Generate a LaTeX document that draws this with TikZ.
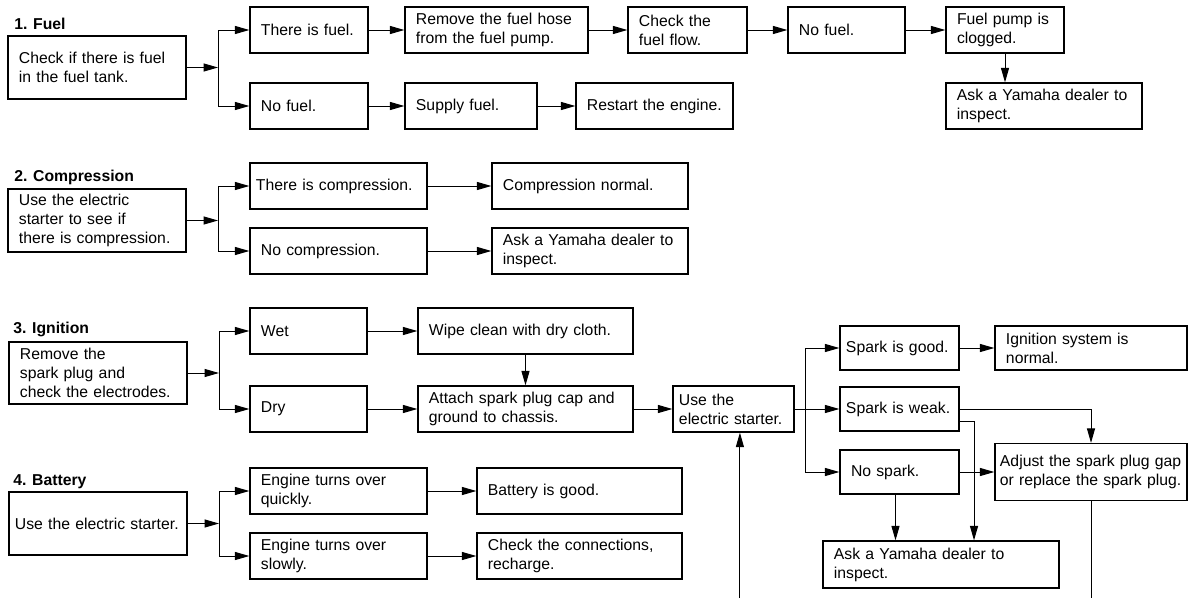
\documentclass[tikz,border=0pt]{standalone}
\usepackage{fontspec}
\setmainfont{Liberation Sans}
\usetikzlibrary{arrows.meta}

\begin{document}
\begin{tikzpicture}[x=0.025cm, y=-0.025cm,
  box/.style={draw, line width=0.9pt, inner xsep=0.275cm, inner ysep=0pt, align=left, minimum height=1.15cm, font=\fontsize{11.2}{13.5}\selectfont},
  tight/.style={inner xsep=0.15cm},
  tall/.style={minimum height=1.575cm},
  head/.style={anchor=base west, inner sep=0pt, font=\fontsize{11.2}{13.5}\selectfont\bfseries},
  arr/.style={line width=0.7pt, -{Triangle[length=3.6mm,width=2mm]}}]
\useasboundingbox (0,0) rectangle (1189,598);
% 1. fuel
\node[head] (h1) at (14,29) {1. Fuel};
\node[box, tall, text width=3.9cm] (fuel) at (97,67.5) {Check if there is fuel\\in the fuel tank.};
\node[box, text width=2.4cm] (fyes) at (309,30) {There is fuel.};
\node[box, text width=2.4cm] (fno) at (309,106) {No fuel.};
\node[box, text width=4.025cm] (fhose) at (496.5,30) {Remove the fuel hose\\from the fuel pump.};
\node[box, text width=2.425cm] (fflow) at (687.5,30) {Check the\\fuel flow.};
\node[box, text width=2.375cm] (fnone) at (846.5,30) {No fuel.};
\node[box, text width=2.4cm] (fpump) at (1005,30) {Fuel pump is\\clogged.};
\node[box, text width=4.35cm] (fdealer) at (1044,106) {Ask a Yamaha dealer to\\inspect.};
\node[box, text width=2.75cm] (fsupply) at (471,106) {Supply fuel.};
\node[box, text width=3.375cm] (frestart) at (654.5,106) {Restart the engine.};
\coordinate (fj) at (218,67.5);
% 2. compression
\node[head] (h2) at (14,181.5) {2. Compression};
\node[box, tall, text width=3.9cm] (comp) at (97,220.5) {Use the electric\\starter to see if\\there is compression.};
\node[box, tight, text width=4.125cm] (cyes) at (338.5,186) {There is compression.};
\node[box, text width=3.875cm] (cno) at (338.5,251) {No compression.};
\node[box, text width=4.35cm] (cnormal) at (590,186) {Compression normal.};
\node[box, text width=4.35cm] (cdealer) at (590,251) {Ask a Yamaha dealer to\\inspect.};
\coordinate (cj) at (218,220.5);
% 3. ignition
\node[head] (h3) at (13,333) {3. Ignition};
\node[box, minimum height=1.55cm, text width=3.9cm] (plug) at (98,373) {Remove the\\spark plug and\\check the electrodes.};
\node[box, text width=2.375cm] (wet) at (308.5,331) {Wet};
\node[box, text width=2.375cm] (dry) at (308.5,409) {Dry};
\node[box, text width=4.825cm] (wipe) at (525.5,331) {Wipe clean with dry cloth.};
\node[box, text width=4.825cm] (attach) at (525.5,409) {Attach spark plug cap and\\ground to chassis.};
\node[box, tight, text width=2.725cm] (starter) at (733.5,409) {Use the\\electric starter.};
\coordinate (ij) at (219,373);
\coordinate (sj) at (805,409);
\node[box, tight, minimum height=1.1cm, text width=2.675cm] (sgood) at (899.5,348) {Spark is good.};
\node[box, tight, minimum height=1.1cm, text width=2.675cm] (sweak) at (899.5,409) {Spark is weak.};
\node[box, minimum height=1.1cm, text width=2.425cm] (snone) at (899.5,472) {No spark.};
\node[box, minimum height=1.1cm, text width=4.25cm] (snormal) at (1091,348) {Ignition system is\\normal.};
\node[box, minimum height=1.425cm, inner xsep=0.125cm, text width=4.55cm] (adjust) at (1091,472) {Adjust the spark plug gap\\or replace the spark plug.};
\node[box, minimum height=1.175cm, text width=5.35cm] (sdealer) at (941,564.5) {Ask a Yamaha dealer to\\inspect.};
% 4. battery
\node[head] (h4) at (13,485) {4. Battery};
\node[box, tall, tight, text width=4.15cm] (batt) at (98,523.5) {Use the electric starter.};
\node[box, text width=3.875cm] (bquick) at (338.5,491) {Engine turns over\\quickly.};
\node[box, text width=3.875cm] (bslow) at (338.5,556) {Engine turns over\\slowly.};
\node[box, text width=4.575cm] (bgood) at (579.5,491) {Battery is good.};
\node[box, text width=4.575cm] (bcheck) at (579.5,556) {Check the connections,\\recharge.};
\coordinate (bj) at (219,523.5);
\coordinate (bot) at (0,598);
% connectors
\draw[arr] (fuel) -- (fj); \draw[arr] (fj) |- (fyes); \draw[arr] (fj) |- (fno);
\draw[arr] (fyes) -- (fhose); \draw[arr] (fhose) -- (fflow);
\draw[arr] (fflow) -- (fnone); \draw[arr] (fnone) -- (fpump);
\draw[arr] (fpump.south) -- (fpump.south |- fdealer.north);
\draw[arr] (fno) -- (fsupply); \draw[arr] (fsupply) -- (frestart);
\draw[arr] (comp) -- (cj); \draw[arr] (cj) |- (cyes); \draw[arr] (cj) |- (cno);
\draw[arr] (cyes) -- (cnormal); \draw[arr] (cno) -- (cdealer);
\draw[arr] (plug) -- (ij); \draw[arr] (ij) |- (wet); \draw[arr] (ij) |- (dry);
\draw[arr] (wet) -- (wipe); \draw[arr] (dry) -- (attach);
\draw[arr] (wipe) -- (attach); \draw[arr] (attach) -- (starter);
\draw[arr] (starter) -- (sweak); \draw[arr] (sj) |- (sgood); \draw[arr] (sj) |- (snone);
\draw[arr] (sgood) -- (snormal);
\draw[arr] (sweak) -| (adjust);
\draw[arr] ([yshift=-0.3cm]sweak.east) -| ([xshift=0.825cm]sdealer.north);
\draw[arr] (snone) -- (adjust);
\draw[arr] ([xshift=-0.1cm]snone.south) -- ([xshift=-0.1cm]snone.south |- sdealer.north);
\draw[line width=0.7pt] (adjust.south) -- (adjust.south |- bot);
\draw[arr] ([xshift=0.16cm]starter.south |- bot) -- ([xshift=0.16cm]starter.south);
\draw[arr] (batt) -- (bj); \draw[arr] (bj) |- (bquick); \draw[arr] (bj) |- (bslow);
\draw[arr] (bquick) -- (bgood); \draw[arr] (bslow) -- (bcheck);
\end{tikzpicture}
\end{document}
